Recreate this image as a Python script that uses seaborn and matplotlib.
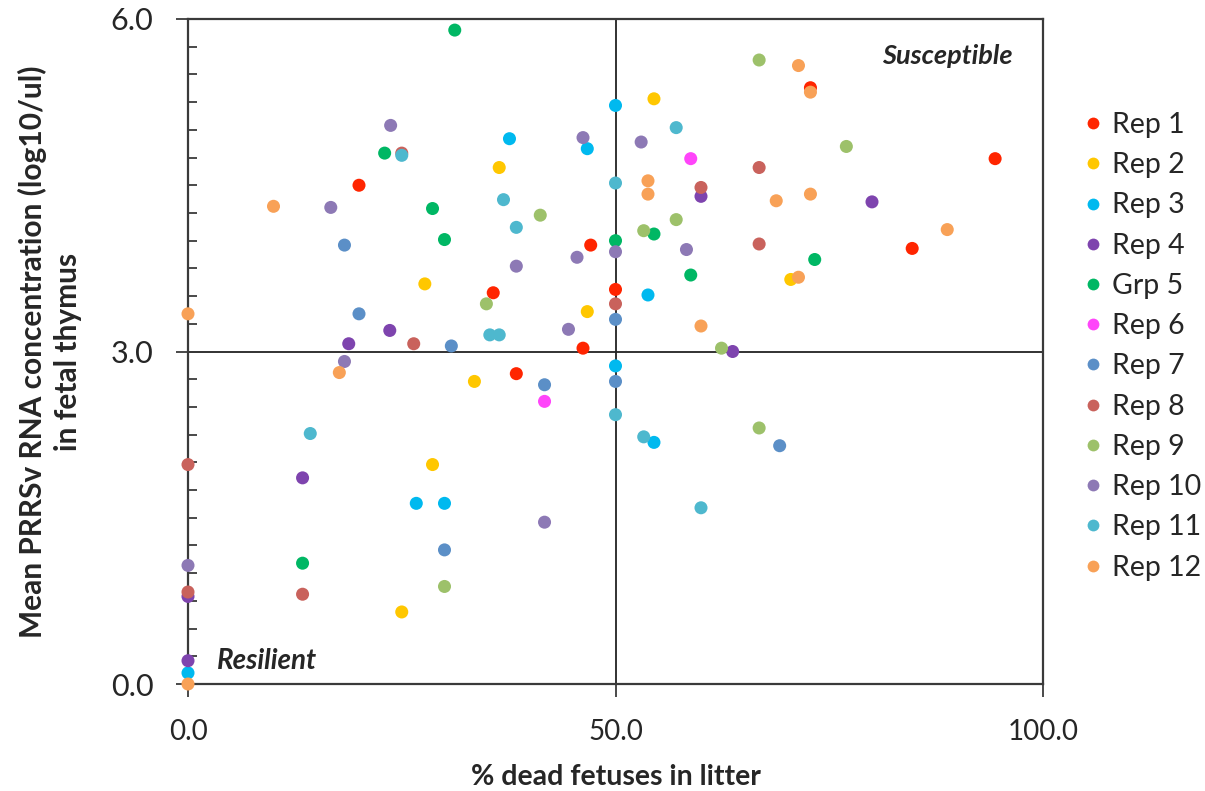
import numpy as np
import pandas as pd
import matplotlib
matplotlib.use("Agg")
import matplotlib.pyplot as plt
from matplotlib.ticker import MultipleLocator, FixedLocator
import seaborn as sns

# ---- data ----
groups = ["Rep 1", "Rep 2", "Rep 3", "Rep 4", "Grp 5", "Rep 6",
          "Rep 7", "Rep 8", "Rep 9", "Rep 10", "Rep 11", "Rep 12"]
colors = ["#FF2500", "#FFC700", "#00B9EF", "#7E44AE", "#00B764", "#FF45FA",
          "#5B8FC7", "#C9625C", "#9DC16A", "#8D79B5", "#4EB8CE", "#F8A157"]

rep1_x = [20.0, 35.7, 47.1, 50.0, 46.2, 38.4, 72.8, 94.4, 84.7]
rep1_y = [4.50, 3.53, 3.96, 3.56, 3.03, 2.80, 5.38, 4.74, 3.93]
rep2_x = [36.4, 27.7, 54.5, 46.7, 70.5, 33.5, 28.6, 25.0]
rep2_y = [4.66, 3.61, 5.28, 3.36, 3.65, 2.73, 1.98, 0.65]
rep3_x = [37.6, 50.0, 46.7, 53.8, 50.0, 54.5, 26.7, 30.0, 0.0]
rep3_y = [4.92, 5.22, 4.83, 3.51, 2.87, 2.18, 1.63, 1.63, 0.10]
rep4_x = [23.6, 18.8, 60.0, 80.0, 63.7, 13.4, 0.0, 0.0]
rep4_y = [3.19, 3.07, 4.40, 4.35, 3.00, 1.86, 0.79, 0.21]
grp5_x = [31.2, 23.0, 28.6, 30.0, 54.5, 50.0, 73.3, 58.8, 13.4]
grp5_y = [5.90, 4.79, 4.29, 4.01, 4.06, 4.00, 3.83, 3.69, 1.09]
rep6_x = [58.8, 41.7]
rep6_y = [4.74, 2.55]
rep7_x = [18.3, 20.0, 30.8, 50.0, 41.7, 50.0, 69.2, 30.0]
rep7_y = [3.96, 3.34, 3.05, 3.29, 2.70, 2.73, 2.15, 1.21]
rep8_x = [25.0, 26.4, 66.8, 60.0, 66.8, 50.0, 0.0, 0.0, 13.4]
rep8_y = [4.79, 3.07, 4.66, 4.48, 3.97, 3.43, 1.98, 0.83, 0.81]
rep9_x = [41.2, 34.9, 66.8, 77.0, 57.1, 53.3, 62.4, 66.8, 30.0]
rep9_y = [4.23, 3.43, 5.63, 4.85, 4.19, 4.09, 3.03, 2.31, 0.88]
rep10_x = [23.7, 16.7, 38.4, 46.2, 53.0, 50.0, 45.5, 58.3, 44.5, 18.3, 41.7, 0.0]
rep10_y = [5.04, 4.30, 3.77, 4.93, 4.89, 3.90, 3.85, 3.92, 3.20, 2.91, 1.46, 1.07]
rep11_x = [25.0, 36.9, 38.4, 35.3, 36.4, 57.1, 50.0, 14.3, 50.0, 53.3, 60.0]
rep11_y = [4.77, 4.37, 4.12, 3.15, 3.15, 5.02, 4.52, 2.26, 2.43, 2.23, 1.59]
rep12_x = [10.0, 0.0, 71.4, 72.8, 53.8, 53.8, 68.8, 72.8, 88.8, 71.4, 60.0, 17.7, 0.0]
rep12_y = [4.31, 3.34, 5.58, 5.34, 4.54, 4.42, 4.36, 4.42, 4.10, 3.67, 3.23, 2.81, 0.00]

xs = [rep1_x, rep2_x, rep3_x, rep4_x, grp5_x, rep6_x, rep7_x, rep8_x,
      rep9_x, rep10_x, rep11_x, rep12_x]
ys = [rep1_y, rep2_y, rep3_y, rep4_y, grp5_y, rep6_y, rep7_y, rep8_y,
      rep9_y, rep10_y, rep11_y, rep12_y]

x_ticks = [0.0, 50.0, 100.0]
y_ticks = [0.0, 3.0, 6.0]

rows = []
for g, xv, yv in zip(groups, xs, ys):
    for a, b in zip(xv, yv):
        rows.append({"group": g, "x": a, "y": b})
df = pd.DataFrame(rows)

# ---- style ----
sns.set_style("white")
plt.rcParams["font.family"] = ["Lato", "DejaVu Sans"]

W, H = 1205, 791
fig = plt.figure(figsize=(W / 100, H / 100), dpi=100)
L, R, T, B = 188, 1043, 19, 684
ax = fig.add_axes([L / W, 1 - B / H, (R - L) / W, (B - T) / H])

palette = dict(zip(groups, colors))
sns.scatterplot(data=df, x="x", y="y", hue="group", hue_order=groups,
                palette=palette, s=88, linewidth=0, alpha=1.0,
                ax=ax, clip_on=False, zorder=5)

ax.set_xlim(0, 100)
ax.set_ylim(0, 6)

spine_col = "#3a3a3a"
for sp in ax.spines.values():
    sp.set_color(spine_col)
    sp.set_linewidth(1.6)
    sp.set_visible(True)

# crosshair
ax.axvline(50, color="#222222", lw=1.3, zorder=2)
ax.axhline(3, color="#222222", lw=1.3, zorder=2)

ax.xaxis.set_major_locator(FixedLocator(x_ticks))
ax.yaxis.set_major_locator(FixedLocator(y_ticks))
ax.yaxis.set_minor_locator(MultipleLocator(0.25))
ax.set_xticklabels([f"{v:.1f}" for v in x_ticks])
ax.set_yticklabels([f"{v:.1f}" for v in y_ticks])

ax.tick_params(axis="both", which="major", direction="out", length=9,
               width=1.3, color=spine_col, left=True, bottom=True)
ax.tick_params(axis="y", which="major", labelsize=22, pad=16)
ax.tick_params(axis="x", which="major", labelsize=20, pad=16)
ax.tick_params(axis="y", which="minor", direction="in", length=6.5,
               width=1.3, color=spine_col, left=True)

ax.set_xlabel("% dead fetuses in litter", fontsize=20.5, fontweight="bold")
ax.xaxis.set_label_coords(0.5, -0.12)
ax.xaxis.label.set_va("top")
ax.set_ylabel("Mean PRRSv RNA concentration (log10/ul)\nin fetal thymus",
              fontsize=21.5, fontweight="bold", linespacing=1.3)
ax.yaxis.set_label_coords(-(L - 82) / (R - L), 0.5)

ax.text(0.965, 0.945, "Susceptible", transform=ax.transAxes, ha="right",
        va="center", fontsize=19.5, fontweight="bold", fontstyle="italic")
ax.text(0.034, 0.034, "Resilient", transform=ax.transAxes, ha="left",
        va="center", fontsize=20, fontweight="bold", fontstyle="italic")

handles, labels = ax.get_legend_handles_labels()
for h in handles:
    try:
        h.set_markersize(8.5)
    except Exception:
        pass
leg = ax.legend(handles, labels, loc="upper left",
                bbox_to_anchor=(1082 / W, 1 - 112 / H),
                bbox_transform=fig.transFigure, frameon=False,
                fontsize=20.5, handlelength=0.75, handletextpad=0.3,
                labelspacing=0.5, borderpad=0, borderaxespad=0)

fig.savefig("out.png", dpi=100)
